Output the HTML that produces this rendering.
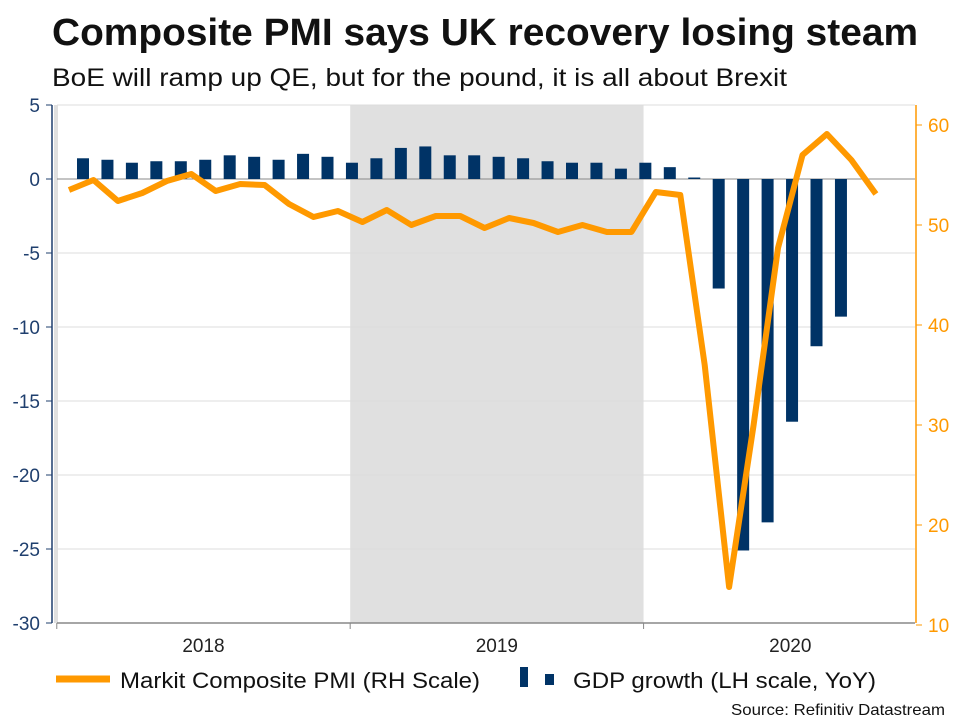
<!DOCTYPE html>
<html><head><meta charset="utf-8"><style>
body{margin:0;background:#fff;}
svg text{font-family:"Liberation Sans",Arial,sans-serif;}
</style></head><body>
<svg width="960" height="720" viewBox="0 0 960 720" xmlns="http://www.w3.org/2000/svg">
<text x="52" y="45" font-size="38" font-weight="bold" fill="#111" textLength="866" lengthAdjust="spacingAndGlyphs">Composite PMI says UK recovery losing steam</text>
<text x="52" y="86" font-size="25" fill="#111" textLength="735" lengthAdjust="spacingAndGlyphs">BoE will ramp up QE, but for the pound, it is all about Brexit</text>
<g id="plot"></g>
<line x1="56" y1="679" x2="110" y2="679" stroke="#ff9900" stroke-width="7"/>
<text x="120" y="688" font-size="22" fill="#111" textLength="360" lengthAdjust="spacingAndGlyphs">Markit Composite PMI (RH Scale)</text>
<rect x="520" y="667" width="8" height="20" fill="#003366"/>
<rect x="545" y="674" width="9" height="11" fill="#003366"/>
<text x="573" y="688" font-size="22" fill="#111" textLength="303" lengthAdjust="spacingAndGlyphs">GDP growth (LH scale, YoY)</text>
<text x="945" y="715" font-size="16" fill="#111" text-anchor="end" textLength="214" lengthAdjust="spacingAndGlyphs">Source: Refinitiv Datastream</text>
</svg>
<script>
const leftTicks=[5,0,-5,-10,-15,-20,-25,-30];
const rightTicks=[60,50,40,30,20,10];
const yearLabels=["2018","2019","2020"];
const pmi=[53.5,54.5,52.4,53.2,54.4,55.1,53.4,54.1,54.0,52.1,50.8,51.4,50.3,51.5,50.0,50.9,50.9,49.7,50.7,50.2,49.3,50.0,49.3,49.3,53.3,53.0,36.0,13.8,30.0,47.7,57.0,59.1,56.5,53.1];
const gdp=[1.4,1.3,1.1,1.2,1.2,1.3,1.6,1.5,1.3,1.7,1.5,1.1,1.4,2.1,2.2,1.6,1.6,1.5,1.4,1.2,1.1,1.1,0.7,1.1,0.8,0.1,-7.4,-25.1,-23.2,-16.4,-11.3,-9.3];
const NS="http://www.w3.org/2000/svg";
const g=document.getElementById('plot');
function mk(t,a){const e=document.createElementNS(NS,t);for(const k in a)e.setAttribute(k,a[k]);g.appendChild(e);return e;}
const X0=57,X1=915,YT=105,YB=623;
const yL=v=>179-v*14.8;
const yR=v=>625-(v-10)*10;
const xM=i=>69+i*24.45;
let e=mk('rect',{x:54,y:YT,width:4,height:YB-YT,fill:'#e0e0e0'});


e=mk('rect',{x:xM(11.5),y:YT,width:xM(23.5)-xM(11.5),height:YB-YT,fill:'#e0e0e0'});


leftTicks.forEach(v=>{
 const y=yL(v);
 let l=mk('line',{x1:X0,x2:X1,y1:y,y2:y,stroke:v===0?'#888':'#ddd','stroke-width':1});
 
 
 let t=mk('text',{x:40,y:y+7,'font-size':19,fill:'#1f3f6e','text-anchor':'end'});
 t.textContent=v;
 
 
 let tk=mk('line',{x1:46,x2:52,y1:y,y2:y,stroke:'#1f3f6e'});
 
 
});
rightTicks.forEach(v=>{
 const y=yR(v);
 let t=mk('text',{x:928,y:y+7,'font-size':19,fill:'#ff9900'});
 t.textContent=v;
 
 
 let tk=mk('line',{x1:916,x2:922,y1:y,y2:y,stroke:'#ff9900'});
 
 
});
e=mk('line',{x1:52,x2:52,y1:YT,y2:YB,stroke:'#1f3f6e','stroke-width':1.5});


e=mk('line',{x1:916,x2:916,y1:yR(62),y2:YB,stroke:'#ff9900','stroke-width':1.5});


e=mk('line',{x1:X0,x2:X1,y1:YB,y2:YB,stroke:'#888','stroke-width':1.5});


yearLabels.forEach((lab,k)=>{
 const xs=xM(-0.5+12*k);
 let tk=mk('line',{x1:xs,x2:xs,y1:YB,y2:YB+6,stroke:'#888'});
 
 
 let t=mk('text',{x:xM(5.5+12*k),y:652,'font-size':19,fill:'#222','text-anchor':'middle'});
 t.textContent=lab;
 
 
});
gdp.forEach((v,i)=>{
 const cx=xM(i)+14;
 const y0=yL(0),y1=yL(v);
 let r=mk('rect',{x:cx-6,y:Math.min(y0,y1),width:12,height:Math.max(1,Math.abs(y1-y0)),fill:'#003366'});
 
 
});
const pts=pmi.map((v,i)=>xM(i).toFixed(1)+','+yR(v).toFixed(1)).join(' ');
e=mk('polyline',{points:pts,fill:'none',stroke:'#ff9900','stroke-width':6,'stroke-linejoin':'round'});


</script>
</body></html>
